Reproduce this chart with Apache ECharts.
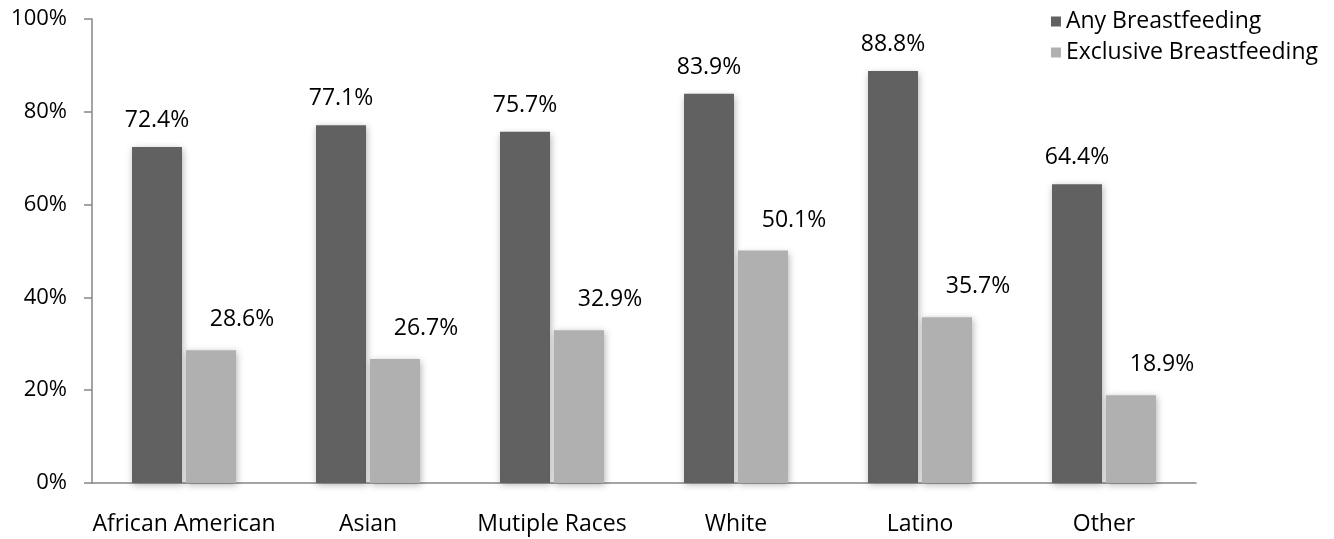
<!DOCTYPE html>
<html><head><meta charset="utf-8">
<script src="https://cdn.jsdelivr.net/npm/echarts@6/dist/echarts.min.js"></script>
<style>html,body{margin:0;padding:0;background:#fff}#c{width:1334px;height:539px}</style>
</head><body><div id="c"></div>
<script>
const categories = ["African American", "Asian", "Mutiple Races", "White", "Latino", "Other"];
const anyBreastfeeding = [72.4, 77.1, 75.7, 83.9, 88.8, 64.4];
const exclusiveBreastfeeding = [28.6, 26.7, 32.9, 50.1, 35.7, 18.9];
const seriesNames = ["Any Breastfeeding", "Exclusive Breastfeeding"];

const FONT = "Open Sans";
const chart = echarts.init(document.getElementById('c'), null, {renderer: 'canvas'});
const shadow = {shadowBlur: 7, shadowColor: 'rgba(0,0,0,0.3)', shadowOffsetX: 1, shadowOffsetY: 2};
chart.setOption({
  animation: false,
  textStyle: {fontFamily: FONT},
  grid: {left: 92, right: 138, top: 19, bottom: 56},
  legend: {
    orient: 'vertical', right: 11, top: 5, itemWidth: 10, itemHeight: 10, itemGap: 8,
    icon: 'rect',
    textStyle: {fontSize: 23, color: '#000', fontFamily: FONT},
    data: seriesNames
  },
  xAxis: {
    type: 'category', data: categories,
    axisLine: {lineStyle: {color: '#868686', width: 1.5}},
    axisTick: {length: 8, lineStyle: {color: '#868686', width: 1.5}},
    axisLabel: {fontSize: 23, color: '#000', margin: 30, fontFamily: FONT, interval: 0}
  },
  yAxis: {
    type: 'value', min: 0, max: 100, interval: 20,
    axisLine: {show: true, lineStyle: {color: '#868686', width: 1.5}},
    axisTick: {show: true, length: 8, lineStyle: {color: '#868686', width: 1.5}},
    splitLine: {show: false},
    axisLabel: {fontSize: 22, color: '#000', margin: 25, fontFamily: FONT, formatter: '{value}%'}
  },
  series: [
    {
      name: seriesNames[0], type: 'bar', data: anyBreastfeeding, barWidth: 50, barGap: '8%',
      itemStyle: Object.assign({color: '#616161'}, shadow),
      label: {show: true, position: 'top', distance: 15, fontSize: 23, color: '#000', fontFamily: FONT,
        formatter: p => p.value.toFixed(1) + '%'}
    },
    {
      name: seriesNames[1], type: 'bar', data: exclusiveBreastfeeding, barWidth: 50,
      itemStyle: Object.assign({color: '#b0b0b0'}, shadow),
      label: {show: true, position: 'top', distance: 19, offset: [31, 0], fontSize: 23, color: '#000', fontFamily: FONT,
        formatter: p => p.value.toFixed(1) + '%'}
    }
  ]
});
</script></body></html>
